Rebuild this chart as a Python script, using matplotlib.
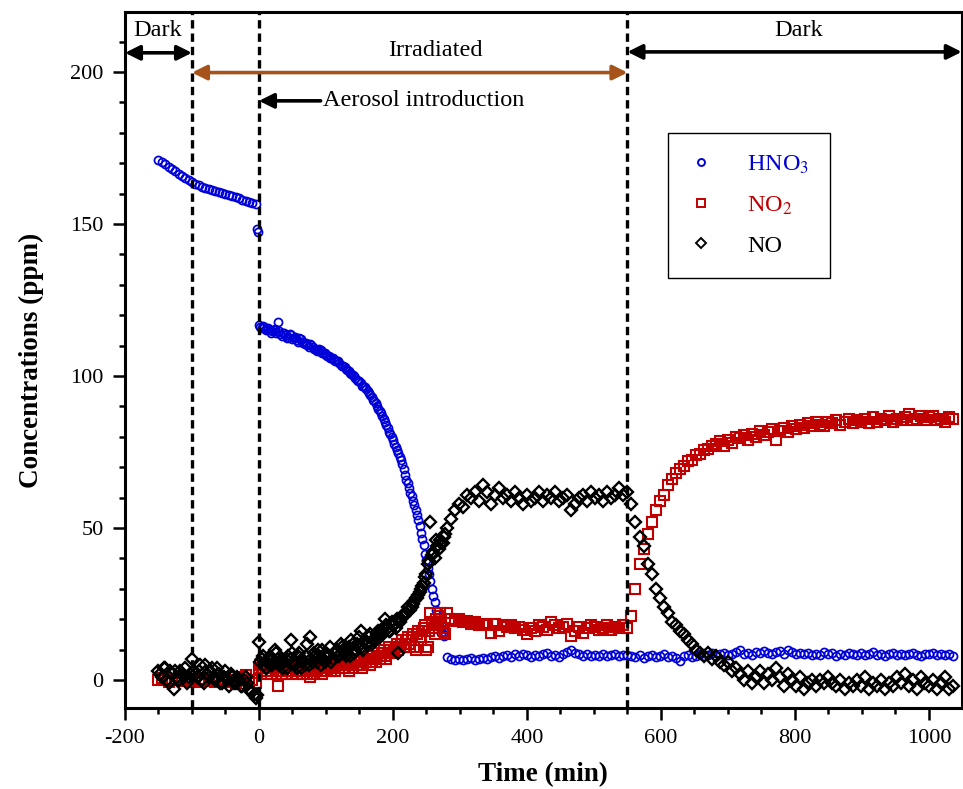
import numpy as np
import matplotlib
matplotlib.use('Agg')
import matplotlib.pyplot as plt
from matplotlib.ticker import MultipleLocator

# ── Data ────────────────────────────────────────────────────
# sampling times (min)
t_dark = np.arange(-150, 0, 5)       # first dark period
t_dark_b = t_dark + 2.5              # interleaved samples
t_irr = np.arange(0, 280, 4)         # irradiation, fast changes
t_irr_b = t_irr + 2                  # interleaved samples
t_mid = np.arange(280, 550, 6)       # irradiation, plateau
t_post = np.arange(550, 1040, 6)     # second dark period

hno3_dark = [171.0, 170.4, 169.6, 168.9, 168.1, 167.3, 166.5, 165.7, 165.0, 164.3,
             163.7, 163.1, 162.7, 162.3, 161.9, 161.6, 161.2, 160.9, 160.6, 160.3,
             160.0, 159.6, 159.2, 158.8, 158.4, 158.0, 157.6, 157.3, 157.0, 156.7]
t_hno3_drop = [-3, -1]
hno3_drop = [148.2, 147.3]
hno3_irr = [116.8, 115.8, 116.2, 115.3, 115.0, 114.7, 115.6, 117.6, 113.8, 114.3,
            113.6, 112.9, 113.5, 112.4, 111.9, 112.4, 111.2, 110.6, 110.2, 110.5,
            109.6, 108.9, 108.4, 108.6, 107.6, 106.9, 106.6, 105.8, 105.3, 104.9,
            104.3, 103.4, 102.8, 102.0, 101.1, 100.3, 99.4, 98.4, 97.6, 96.6,
            95.8, 94.4, 93.1, 91.7, 90.1, 88.6, 86.8, 84.9, 82.9, 80.8,
            78.8, 76.6, 74.6, 72.2, 69.4, 65.8, 63.2, 60.4, 57.6, 54.2,
            50.5, 46.5, 41.5, 37.0, 32.5, 27.5, 23.0, 18.5, 15.5, 14.5]
hno3_irr_b = [116.0, 116.5, 115.0, 115.8, 114.3, 115.2, 114.2, 114.8, 113.2, 114.0,
              112.6, 113.8, 112.0, 112.8, 111.3, 112.0, 110.8, 111.0, 109.6, 110.2,
              109.0, 108.2, 108.9, 107.6, 107.5, 106.5, 106.0, 105.8, 104.8, 104.9,
              103.6, 103.3, 102.2, 101.8, 100.6, 100.0, 98.6, 98.2, 96.8, 96.4,
              94.9, 93.9, 92.2, 91.0, 89.2, 87.8, 85.7, 84.0, 81.6, 79.9,
              77.5, 75.8, 73.2, 71.0, 67.5, 64.8, 61.6, 59.0, 55.8, 52.5,
              48.5, 44.5, 39.5, 35.0, 30.0, 25.5, 20.5, 17.0, 15.0, 14.8]
hno3_mid = [7.5, 6.8, 6.5, 7.0, 6.6, 6.8, 7.2, 6.7, 7.0, 7.4,
            6.9, 7.5, 8.0, 7.3, 7.8, 8.2, 7.5, 8.4, 7.8, 8.6,
            8.2, 7.6, 8.3, 7.9, 8.5, 8.8, 7.8, 8.2, 7.5, 8.4,
            9.2, 9.8, 8.9, 8.4, 8.0, 8.6, 7.8, 8.3, 8.0, 8.5,
            7.9, 8.2, 8.6, 8.0, 8.3]
hno3_post = [8.3, 8.0, 7.6, 8.2, 7.4, 7.8, 8.1, 7.5, 7.9, 8.4,
             7.7, 8.0, 7.3, 6.2, 7.8, 8.3, 7.6, 8.0, 8.6, 7.8,
             8.2, 8.8, 7.9, 8.4, 8.8, 8.1, 8.7, 9.2, 10.0, 8.6,
             9.0, 8.3, 9.3, 8.8, 9.4, 9.0, 8.5, 9.1, 9.6, 8.6,
             9.8, 9.2, 8.4, 8.8, 8.5, 9.0, 8.3, 8.6, 8.1, 9.2,
             8.4, 8.8, 8.0, 8.5, 8.2, 9.0, 8.6, 8.1, 8.8, 8.3,
             8.6, 9.1, 8.2, 8.5, 7.9, 8.4, 8.8, 8.2, 8.6, 8.1,
             8.4, 8.9, 8.3, 8.0, 8.6, 8.4, 8.8, 8.1, 8.5, 8.2,
             8.7, 8.0]

no2_dark = [0.0, 0.5, 0.0, -0.5, 0.3, 0.0, 0.5, -0.3, 0.0, 0.4,
            0.0, -0.5, 0.2, 0.0, -0.3, 0.2, 0.0, -0.5, 0.0, -0.3,
            0.3, -0.5, 0.0, -1.0, 0.0, 1.0, 1.5, -0.5, 0.0, -1.0]
no2_irr = [4, 3, 5, 2, 4, 3, 5, -2, 4, 3,
           2, 4, 3, 5, 2, 4, 3, 5, 2, 1,
           4, 3, 5, 4, 3, 4, 5, 3, 4, 6,
           4, 5, 4, 6, 5, 4, 6, 5, 7, 5,
           6, 8, 6, 7, 8, 7, 9, 8, 9, 10,
           9, 11, 10, 12, 11, 13, 12, 14, 11, 15,
           14, 16, 18, 11, 22, 17, 20, 21, 19, 16]
no2_irr_b = [5, 4, 3, 5, 2, 4, 5, 3, 2, 4,
             5, 3, 2, 4, 3, 5, 2, 4, 3, 4,
             2, 5, 4, 2, 5, 3, 4, 6, 3, 5,
             6, 4, 5, 3, 6, 7, 5, 6, 4, 7,
             7, 5, 8, 6, 9, 8, 10, 7, 11, 9,
             10, 12, 11, 13, 12, 14, 11, 15, 10, 16,
             13, 17, 10, 16, 19, 15, 18, 22, 17, 15]
no2_mid = [22.0, 20.0, 19.5, 20.0, 19.0, 19.5, 18.5, 19.0, 18.0, 18.5,
           18.0, 15.5, 18.5, 16.0, 18.0, 17.5, 18.0, 17.0, 17.5, 16.5,
           15.0, 17.0, 16.0, 18.0, 17.5, 16.5, 19.0, 18.0, 17.0, 17.5,
           18.5, 14.5, 16.0, 17.5, 15.5, 17.0, 18.0, 17.5, 16.5, 17.0,
           18.0, 16.5, 17.5, 17.0, 18.0]
no2_post = [17.0, 21.0, 30.0, 38.0, 43.0, 48.0, 52.0, 56.0, 59.0, 61.0,
            64.0, 66.0, 68.0, 69.5, 70.5, 72.0, 72.5, 74.0, 74.5, 75.5,
            76.0, 77.0, 77.5, 78.5, 77.0, 79.0, 78.0, 80.0, 79.5, 80.5,
            79.0, 81.0, 80.0, 82.0, 80.5, 81.5, 82.5, 79.0, 82.0, 83.0,
            81.5, 83.5, 82.5, 84.0, 83.0, 84.5, 83.5, 85.0, 84.0, 83.5,
            85.0, 84.5, 85.5, 84.0, 85.0, 86.0, 84.5, 85.5, 85.0, 86.0,
            84.5, 86.5, 85.0, 86.0, 85.5, 87.0, 85.0, 86.0, 85.5, 86.5,
            87.5, 85.5, 86.0, 87.0, 85.5, 86.5, 87.0, 85.5, 86.0, 85.0,
            86.5, 86.0]

no_dark = [3, 1, 4, -1, 2, 3, 0, 2, 4, 1,
           7, 2, 3, 0, 5, 1, 4, 0, 2, -1,
           3, -2, 1, -1, 0, -2, 1, -3, -4, -6]
no_dark_b = [2, 4, 0, 3, -3, 1, 3, 1, -1, 2,
             3, 1, 5, -1, 2, 3, 1, 4, -1, 1,
             0, 2, -1, 1, -2, 0, -1, -4, -5, -5]
no_irr = [12.5, 7, 5, 6, 8, 5, 10, 7, 6, 4,
          7, 8, 13, 6, 4, 9, 7, 5, 12, 14,
          6, 8, 10, 5, 7, 9, 8, 6, 9, 10,
          8, 11, 9, 10, 8, 12, 10, 11, 16, 10,
          12, 14, 12, 13, 15, 14, 16, 20, 17, 16,
          18, 17, 9, 20, 21, 22, 23, 24, 26, 27,
          29, 31, 34, 38, 52, 42, 46, 43, 45, 47]
no_irr_b = [6, 8, 4, 7, 5, 6, 9, 5, 7, 6,
            4, 7, 9, 5, 8, 4, 6, 8, 5, 7,
            9, 6, 8, 10, 6, 8, 11, 7, 9, 8,
            12, 10, 8, 11, 13, 9, 12, 14, 11, 13,
            12, 15, 13, 14, 16, 15, 17, 18, 16, 19,
            18, 20, 19, 21, 22, 24, 23, 25, 27, 28,
            30, 32, 35, 39, 41, 40, 44, 46, 45, 48]
no_mid = [50, 53, 56, 58, 57, 61, 60, 62, 59, 64,
          62, 58, 61, 63, 60, 61, 59, 62, 60, 58,
          61, 59, 60, 62, 59, 61, 60, 62, 59, 60,
          61, 56, 58, 60, 61, 59, 62, 60, 61, 59,
          62, 60, 61, 63, 61]
no_post = [62, 58, 52, 47, 44, 38, 35, 30, 27, 24,
           22, 19, 18, 16, 15, 13, 12, 10, 9, 8,
           9, 7, 8, 6, 5, 6, 3, 4, 2, 0,
           3, -1, 1, 3, -1, 2, 0, 4, 1, -2,
           2, 0, -2, 1, -3, -1, 0, -2, 0, -1,
           1, -1, -2, 0, -3, -1, -2, 0, -2, 1,
           -3, -1, -2, 0, -3, -1, -2, 1, -1, 2,
           -2, 0, -3, 1, -1, -2, 0, -3, -1, 1,
           -3, -2]

# phase boundaries (min)
t_lights_on = -100
t_aerosol = 0
t_lights_off = 550

# ── Style ───────────────────────────────────────────────────
BLUE = '#0000D8'
RED = '#C00000'
BROWN = '#A5531A'

plt.rcParams.update({
    'font.family': 'Liberation Serif',
    'mathtext.fontset': 'stix',
    'font.size': 16,
    'axes.unicode_minus': False,
})

fig = plt.figure(figsize=(9.63, 7.89), dpi=100)
ax = fig.add_axes([0.1298, 0.1027, 0.8689, 0.882])

t_hno3 = np.concatenate([t_dark, t_hno3_drop, t_irr, t_irr_b, t_mid, t_post])
c_hno3 = np.concatenate([hno3_dark, hno3_drop, hno3_irr, hno3_irr_b,
                         hno3_mid, hno3_post])
t_no2 = np.concatenate([t_dark, t_irr, t_irr_b, t_mid, t_post])
c_no2 = np.concatenate([no2_dark, no2_irr, no2_irr_b, no2_mid, no2_post])
t_no = np.concatenate([t_dark, t_dark_b, t_irr, t_irr_b, t_mid, t_post])
c_no = np.concatenate([no_dark, no_dark_b, no_irr, no_irr_b, no_mid, no_post])

ax.plot(t_hno3, c_hno3, 'o', ls='none', ms=5.8, mfc='none', mec=BLUE,
        mew=1.25, label='HNO$_3$', zorder=3)
ax.plot(t_no2, c_no2, 's', ls='none', ms=7.2, mfc='none', mec=RED,
        mew=1.5, label='NO$_2$', zorder=4)
ax.plot(t_no, c_no, 'D', ls='none', ms=6.0, mfc='none', mec='black',
        mew=1.7, label='NO', zorder=5)

# phase lines
for xv in (t_lights_on, t_aerosol, t_lights_off):
    ax.axvline(xv, color='black', lw=2.4, ls=(0, (2.5, 1.5)), zorder=6)

# phase arrows
def span_arrow(x0, x1, y, color, style='<|-|>'):
    ax.annotate('', xy=(x1, y), xytext=(x0, y),
                arrowprops=dict(arrowstyle=style, color=color, lw=2.6,
                                mutation_scale=22, shrinkA=0, shrinkB=0),
                zorder=7)

span_arrow(-200, t_lights_on, 206.3, 'black')
span_arrow(t_lights_on, t_lights_off, 199.8, BROWN)
span_arrow(t_lights_off, 1049, 206.6, 'black')
span_arrow(92, t_aerosol, 190.5, 'black', style='-|>')

ax.text(-151, 213.5, 'Dark', ha='center', va='center', fontsize=17.5)
ax.text(263, 207.2, 'Irradiated', ha='center', va='center', fontsize=17.5)
ax.text(805, 213.8, 'Dark', ha='center', va='center', fontsize=17.5)
ax.text(96, 190.5, 'Aerosol introduction', ha='left', va='center', fontsize=17.5)

# axes
ax.set_xlim(-200, 1049)
ax.set_ylim(-9.2, 219.7)
ax.xaxis.set_major_locator(MultipleLocator(200))
ax.xaxis.set_minor_locator(MultipleLocator(50))
ax.yaxis.set_major_locator(MultipleLocator(50))
ax.yaxis.set_minor_locator(MultipleLocator(10))
ax.tick_params(which='both', direction='out', top=False, right=False,
               width=1.8, labelsize=16)
ax.tick_params(which='major', length=8.5, pad=7)
ax.tick_params(which='minor', length=4.5)
for s in ax.spines.values():
    s.set_linewidth(2.2)

ax.set_xlabel('Time (min)', fontsize=19.5, fontweight='bold', labelpad=10)
ax.set_ylabel('Concentrations (ppm)', fontsize=19.5, fontweight='bold',
              labelpad=19)

leg = ax.legend(loc='upper left', bbox_to_anchor=(0.649, 0.826),
                borderaxespad=0, frameon=True, fancybox=False,
                edgecolor='black', framealpha=1, fontsize=17.5,
                labelcolor=[BLUE, RED, 'black'], handlelength=1.0,
                handletextpad=1.4, borderpad=0.85, labelspacing=0.75)
leg.get_frame().set_linewidth(1.0)
for h, size in zip(leg.legend_handles, (5.0, 5.8, 4.6)):
    h.set_markersize(size)
    h.set_markeredgewidth(1.4)

fig.savefig('out.png', dpi=100)
